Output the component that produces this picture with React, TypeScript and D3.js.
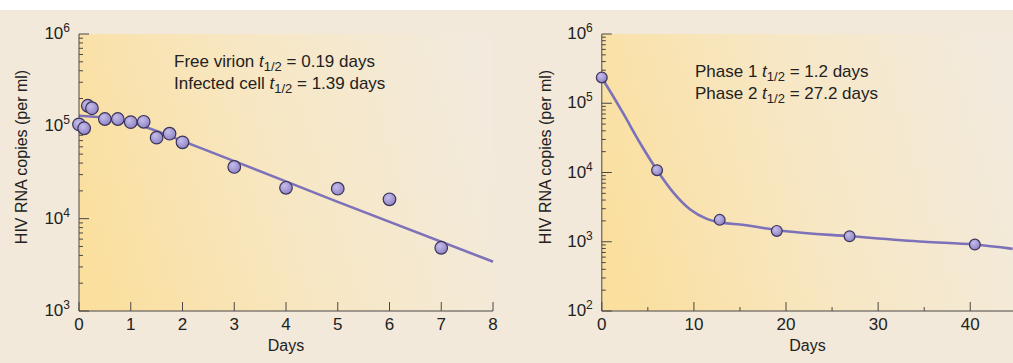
import React from 'react';
import * as d3 from 'd3';

// left panel: early decay after treatment
const leftDays = [0, 0.1, 0.17, 0.25, 0.5, 0.75, 1, 1.25, 1.5, 1.75, 2, 3, 4, 5, 6, 7];
const leftCopies = [105000, 95300, 167000, 157000, 120000, 120000, 111000, 112000, 75400, 83200, 67100, 36300, 21600, 21100, 16200, 4840];
const leftFitDays = [0, 0.5, 1, 1.5, 2, 3, 5, 8];
const leftFitCopies = [130000, 124000, 111000, 89000, 69300, 42000, 15200, 3420];

// right panel: two-phase decay
const rightDays = [0, 6, 12.8, 19, 26.9, 40.5];
const rightCopies = [236000, 10800, 2070, 1435, 1200, 912];
const rightFitDays = [0, 0.9, 2.3, 4.15, 6, 7.8, 9.6, 11.4, 13.2, 15, 20, 27, 35, 40.5, 44.6];
const rightFitCopies = [232000, 149000, 72400, 26700, 10800, 5080, 2920, 2140, 1875, 1770, 1420, 1200, 1000, 912, 790];

const leftXTicks = [0, 1, 2, 3, 4, 5, 6, 7, 8];
const rightXTicks = [0, 10, 20, 30, 40];
const rightXMinor = [5, 15, 25, 35];
const leftYExp = [3, 4, 5, 6];
const rightYExp = [2, 3, 4, 5, 6];

const FONT = '"Liberation Sans", Arial, Helvetica, sans-serif';
const AXIS = '#4a4744';
const TOP = 34;
const BOTTOM = 311;

type PanelProps = {
  id: string;
  x0: number;
  x1: number;
  xDomain: [number, number];
  yExp: number[];
  xTicks: number[];
  xMinor: number[];
  days: number[];
  copies: number[];
  fitDays: number[];
  fitCopies: number[];
  r: number;
  titleX: number;
  labelX: number;
  labelY: number;
  labels: [string, string][];
};

const Panel = (p: PanelProps) => {
  const x = d3.scaleLinear().domain(p.xDomain).range([p.x0, p.x1]);
  const y = d3
    .scaleLog()
    .domain([Math.pow(10, p.yExp[0]), Math.pow(10, p.yExp[p.yExp.length - 1])])
    .range([BOTTOM, TOP]);

  const line = d3
    .line<number>()
    .x((d) => x(p.fitDays[d]))
    .y((d) => y(p.fitCopies[d]))
    .curve(d3.curveMonotoneX);

  // minor log ticks 2..9 inside each decade
  const minor: number[] = [];
  p.yExp.slice(0, -1).forEach((e) => {
    for (let k = 2; k < 10; k++) minor.push(k * Math.pow(10, e));
  });

  const plotRight = Math.min(p.x1, 1013);

  return (
    <g>
      <defs>
        <linearGradient id={p.id + '-bg'} x1="0" y1="0.6" x2="1" y2="0.4">
          <stop offset="0" stopColor="#fadf9f" />
          <stop offset="0.5" stopColor="#f7e7c4" />
          <stop offset="1" stopColor="#f2eadc" />
        </linearGradient>
      </defs>
      <rect x={p.x0} y={TOP} width={plotRight - p.x0} height={BOTTOM - TOP} fill={`url(#${p.id}-bg)`} />

      {/* fitted curve */}
      <path d={line(d3.range(p.fitDays.length)) || ''} fill="none" stroke="#7d71b9" strokeWidth={2.6} />

      {/* axes */}
      <line x1={p.x0} x2={p.x0} y1={TOP} y2={BOTTOM} stroke={AXIS} strokeWidth={1} />
      <line x1={p.x0} x2={plotRight} y1={BOTTOM} y2={BOTTOM} stroke={AXIS} strokeWidth={1} />
      {p.yExp.map((e) => (
        <g key={'ye' + e}>
          <line x1={p.x0} x2={p.x0 + 10} y1={y(Math.pow(10, e))} y2={y(Math.pow(10, e))} stroke={AXIS} />
          <text x={p.x0 - 9} y={y(Math.pow(10, e)) + 5} textAnchor="end" fontSize={17} fill="#222">
            10
            <tspan fontSize={12} dy={-7}>
              {e}
            </tspan>
          </text>
        </g>
      ))}
      {minor.map((v) => (
        <line key={'ym' + v} x1={p.x0} x2={p.x0 + 4} y1={y(v)} y2={y(v)} stroke={AXIS} />
      ))}
      {p.xTicks.map((t) => (
        <g key={'xt' + t}>
          <line x1={x(t)} x2={x(t)} y1={BOTTOM} y2={BOTTOM - 9} stroke={AXIS} />
          <text x={x(t)} y={BOTTOM + 19} textAnchor="middle" fontSize={17} fill="#222">
            {t}
          </text>
        </g>
      ))}
      {p.xMinor.map((t) => (
        <line key={'xm' + t} x1={x(t)} x2={x(t)} y1={BOTTOM} y2={BOTTOM - 4} stroke={AXIS} />
      ))}
      <text x={(p.x0 + plotRight) / 2} y={BOTTOM + 40} textAnchor="middle" fontSize={16} fill="#222">
        Days
      </text>
      <text
        transform={`translate(${p.titleX},157) rotate(-90)`}
        textAnchor="middle"
        fontSize={16}
        fill="#222"
      >
        HIV RNA copies (per ml)
      </text>

      {/* annotations */}
      {p.labels.map(([pre, post], i) => (
        <text key={'lb' + i} x={p.labelX} y={p.labelY + i * 22} fontSize={17} fill="#222">
          {pre}
          <tspan fontStyle="italic">t</tspan>
          <tspan fontSize={13} dy={4}>
            1/2
          </tspan>
          <tspan dy={-4}>{post}</tspan>
        </text>
      ))}

      {/* data points */}
      {p.days.map((d, i) => (
        <circle
          key={'pt' + i}
          cx={x(d)}
          cy={y(p.copies[i])}
          r={p.r}
          fill="url(#pt-fill)"
          stroke="#3b3359"
          strokeWidth={1.2}
        />
      ))}
    </g>
  );
};

export default function App() {
  return (
    <svg
      width={1013}
      height={363}
      style={{ position: 'absolute', left: 0, top: 0 }}
      fontFamily={FONT}
    >
      <defs>
        <radialGradient id="pt-fill" cx="0.38" cy="0.35" r="0.7">
          <stop offset="0" stopColor="#c6bdea" />
          <stop offset="1" stopColor="#8c81c3" />
        </radialGradient>
      </defs>
      <rect x={0} y={0} width={1013} height={363} fill="#ffffff" />
      <rect x={0} y={10} width={1013} height={353} fill="#f2e9da" />
      <Panel
        id="L"
        x0={79}
        x1={493}
        xDomain={[0, 8]}
        yExp={leftYExp}
        xTicks={leftXTicks}
        xMinor={[]}
        days={leftDays}
        copies={leftCopies}
        fitDays={leftFitDays}
        fitCopies={leftFitCopies}
        r={6.3}
        titleX={27}
        labelX={174}
        labelY={67}
        labels={[
          ['Free virion ', ' = 0.19 days'],
          ['Infected cell ', ' = 1.39 days'],
        ]}
      />
      <Panel
        id="R"
        x0={601.8}
        x1={1016.3}
        xDomain={[0, 45]}
        yExp={rightYExp}
        xTicks={rightXTicks}
        xMinor={rightXMinor}
        days={rightDays}
        copies={rightCopies}
        fitDays={rightFitDays}
        fitCopies={rightFitCopies}
        r={5.4}
        titleX={551}
        labelX={695}
        labelY={77}
        labels={[
          ['Phase 1 ', ' = 1.2 days'],
          ['Phase 2 ', ' = 27.2 days'],
        ]}
      />
    </svg>
  );
}
